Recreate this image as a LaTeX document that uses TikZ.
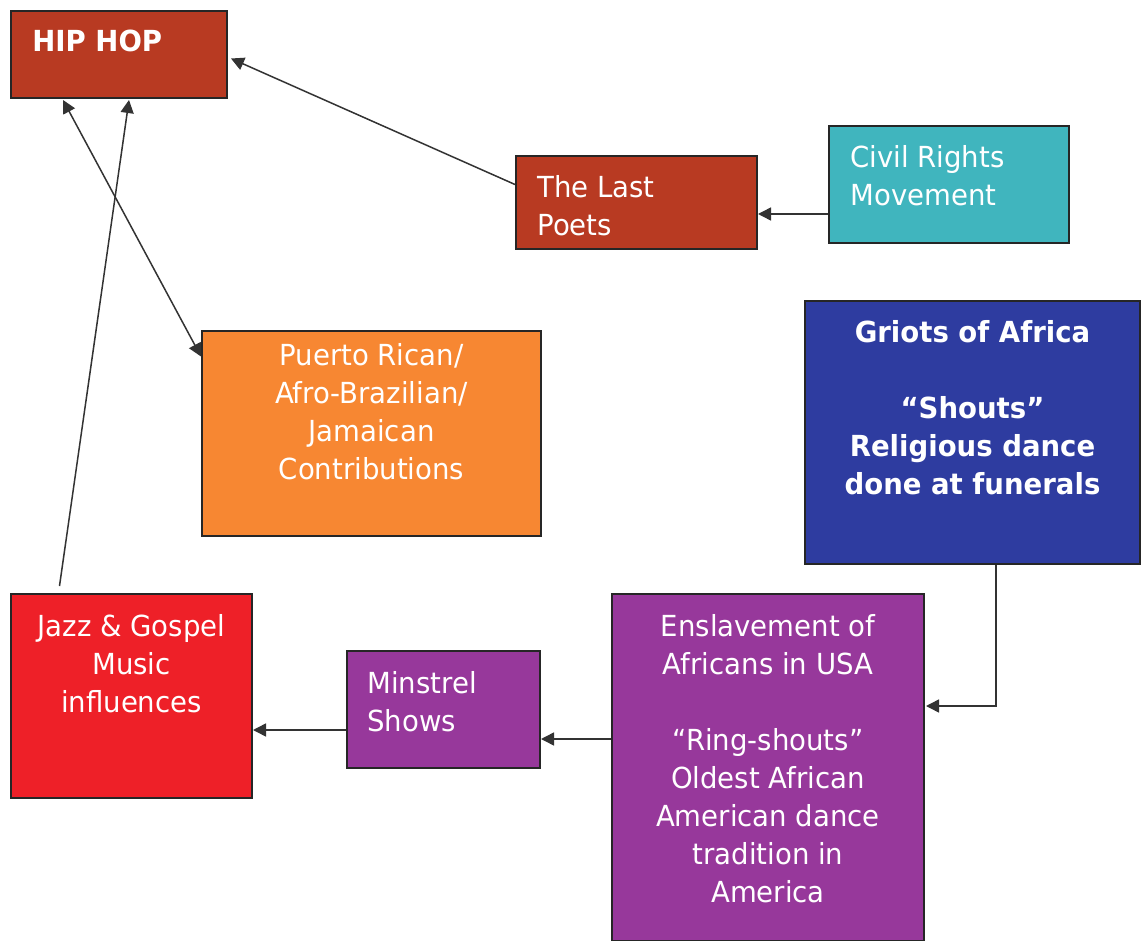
\documentclass[tikz,border=0pt]{standalone}
\usepackage{fontspec}
\setmainfont{DejaVu Sans}[FakeStretch=0.95]
\usepackage{tikz}
\usetikzlibrary{arrows.meta,positioning,calc}

\definecolor{brick}{HTML}{B83A22}
\definecolor{civilteal}{HTML}{40B5BE}
\definecolor{puertoorange}{HTML}{F78732}
\definecolor{griotblue}{HTML}{2E3CA0}
\definecolor{slavepurple}{HTML}{97389B}
\definecolor{jazzred}{HTML}{EE2028}

\begin{document}
\begin{tikzpicture}[x=0.5pt,y=-0.5pt,>={Triangle[length=6.5pt,width=6.5pt]},
  box/.style={draw=black!85,line width=1pt,anchor=north west,inner sep=0pt},
  txt/.style={text=white,inner sep=0pt,font=\fontsize{14.5}{19}\selectfont},
  link/.style={->,draw=black!80,line width=0.75pt}]

  \useasboundingbox (0,0) rectangle (1141,941);

  % boxes
  \node[box,fill=brick,minimum width=108pt,minimum height=43.5pt] (hiphop) at (10,10) {};
  \node[box,fill=brick,minimum width=120.5pt,minimum height=46.5pt] (lastpoets) at (515,155) {};
  \node[box,fill=civilteal,minimum width=120pt,minimum height=58.5pt] (civil) at (828,125) {};
  \node[box,fill=puertoorange,minimum width=169.5pt,minimum height=102.5pt] (puerto) at (201,330) {};
  \node[box,fill=griotblue,minimum width=167.5pt,minimum height=131.5pt] (griots) at (804,300) {};
  \node[box,fill=slavepurple,minimum width=156pt,minimum height=173.5pt] (enslave) at (611,593) {};
  \node[box,fill=slavepurple,minimum width=96.5pt,minimum height=58.5pt] (minstrel) at (346,650) {};
  \node[box,fill=jazzred,minimum width=120.5pt,minimum height=102pt] (jazz) at (10,593) {};

  % texts
  \node[txt,font=\fontsize{14.5}{19}\selectfont\bfseries,below right=10pt and 11pt of hiphop.north west] (hiphoptxt) {HIP HOP};
  \node[txt,align=left,below right=10pt and 11pt of lastpoets.north west] (lastpoetstxt) {The Last\\Poets};
  \node[txt,align=left,below right=10pt and 11pt of civil.north west] (civiltxt) {Civil Rights\\Movement};
  \node[txt,align=center,below=6.5pt of puerto.north] (puertotxt) {Puerto Rican/\\Afro-Brazilian/\\Jamaican\\Contributions};
  \node[txt,font=\fontsize{14.5}{19}\selectfont\bfseries,align=center,below=10pt of griots.north] (griotstxt)
    {Griots of Africa\\[19pt]“Shouts”\\Religious dance\\done at funerals};
  \node[txt,align=center,below=10.5pt of enslave.north] (enslavetxt)
    {Enslavement of\\Africans in USA\\[19pt]“Ring-shouts”\\Oldest African\\American dance\\tradition in\\America};
  \node[txt,align=left,below right=10.5pt and 10.5pt of minstrel.north west] (minstreltxt) {Minstrel\\Shows};
  \node[txt,align=center,below=10.5pt of jazz.north] (jazztxt) {Jazz \& Gospel\\Music\\influences};

  % connectors
  \coordinate (crm) at ([shift={(0,29.5)}]civil.west);
  \coordinate (ens) at ([shift={(0,-28.5)}]enslave.west);
  \coordinate (mns) at ([shift={(0,20.5)}]minstrel.west);

  \draw[link] ([shift={(0,-18)}]lastpoets.west) -- ([shift={(3,4)}]hiphop.east);
  \draw[link] (crm) -- (crm -| lastpoets.east);
  \draw[link,<->] ([shift={(-56,1)}]hiphop.south) -- ([shift={(0,-77)}]puerto.west);
  \draw[link] ([shift={(-72,-7)}]jazz.north) -- ([shift={(10,1)}]hiphop.south);
  \draw[link] ([shift={(23.5,0)}]griots.south) |- ([shift={(1,-61.5)}]enslave.east);
  \draw[link] (ens) -- (ens -| minstrel.east);
  \draw[link] (mns) -- (mns -| jazz.east);
\end{tikzpicture}
\end{document}
